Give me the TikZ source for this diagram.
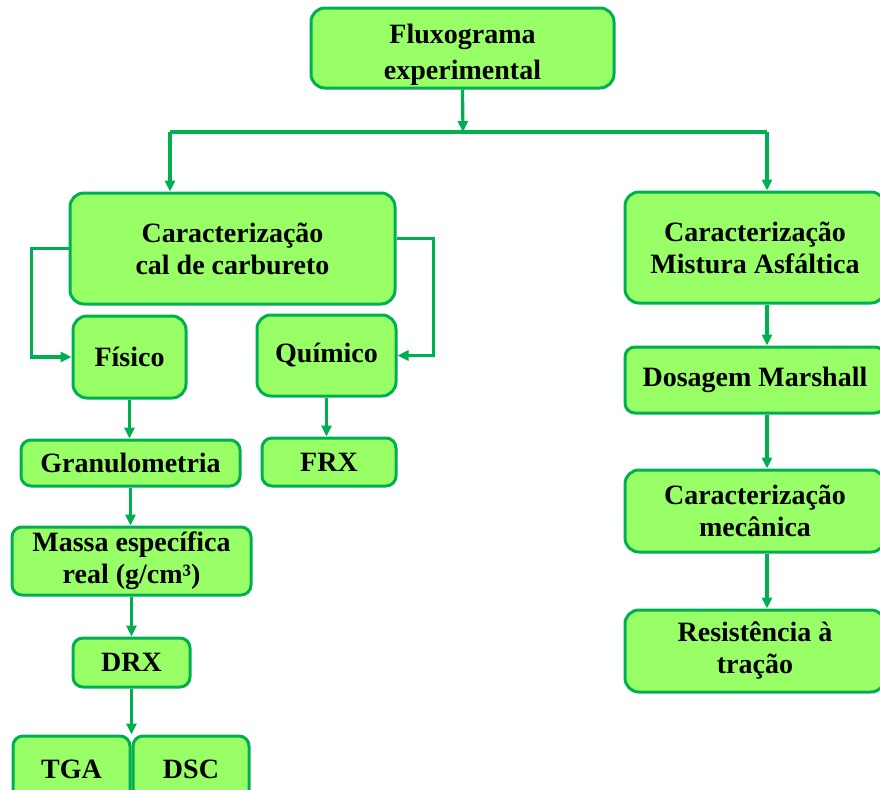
\documentclass[tikz,border=0pt]{standalone}
\usepackage{fontspec}
\setmainfont{Liberation Serif}
\usepackage{tikz}
\usetikzlibrary{arrows.meta,positioning}
\definecolor{boxfill}{RGB}{153,255,102}
\definecolor{boxline}{RGB}{0,176,80}

\begin{document}
\begin{tikzpicture}[x=0.5pt,y=-0.5pt]
			\tikzstyle{Box}		= [rectangle, rounded corners=7pt, draw=boxline, line width=1.5pt, fill=boxfill, align=center, inner sep=0pt, font=\fontsize{14}{16}\selectfont\bfseries]
			\tikzstyle{Small}	= [rounded corners=5pt]
			\tikzstyle{Link}	= [draw=boxline, line width=1.6pt]
			\tikzstyle{Arrow}	= [Link, -{Triangle[length=5.5pt,width=5pt]}]
			
			\clip (0,0) rectangle (880,789);
			
			% left branch
			\node (flux) at (462.5,48) [Box][minimum width=151.5pt, minimum height=40pt] {\rule{0pt}{16pt}Fluxograma\\[2pt]experimental};
			\node (cal) at (232.5,248.5) [Box][minimum width=162.5pt, minimum height=55.5pt] {Caracterização\\cal de carbureto};
			\node (fis) at (129.5,357) [Box][minimum width=56.5pt, minimum height=41pt] {Físico};
			\node (qui) at (326.5,355.5) [Box][minimum width=69.5pt, minimum height=40.5pt] {Químico};
			\node (gran) at (130.5,463) [Box][Small][minimum width=109.5pt, minimum height=23pt] {Granulometria};
			\node (frx) at (329,462) [Box][Small][minimum width=67pt, minimum height=24pt] {FRX};
			\node (massa) at (131.5,561) [Box][Small][minimum width=119.5pt, minimum height=34pt] {Massa específica\\real (g/cm³)};
			\node (drx) at (131.5,662.5) [Box][Small][minimum width=58.5pt, minimum height=24.5pt] {DRX};
			\node (tga) at (71.5,769) [Box][Small][minimum width=58.5pt, minimum height=33pt] {TGA};
			\node (dsc) at (191,769) [Box][Small][minimum width=58pt, minimum height=33pt] {DSC};
			
			% right branch
			\node (mist) at (755,247.5) [Box][minimum width=130pt, minimum height=55.5pt] {Caracterização\\Mistura Asfáltica};
			\node (dos) at (755,380) [Box][Small][minimum width=130pt, minimum height=33pt] {Dosagem Marshall};
			\node (mec) at (755,511) [Box][minimum width=130pt, minimum height=41pt] {Caracterização\\mecânica};
			\node (res) at (755,651) [Box][minimum width=130pt, minimum height=41pt] {Resistência à\\tração};
			
			\coordinate (jm) at (463,132);
			\coordinate (jl) at (170,132);
			\coordinate (jr) at (767,132);
			
			\draw [Arrow] (flux.south) -- (jm);
			\draw [Link] (jl) -- (jr);
			\draw [Arrow] (jl) -- (jl |- cal.north);
			\draw [Arrow] (jr) -- (jr |- mist.north);
			
			\draw [Arrow] (cal.west) -- ++(-37,0) |- (fis.west);
			\draw [Arrow] ([yshift=5pt]cal.east) -- ++(37,0) |- (qui.east);
			\draw [Arrow] (fis.south) -- (fis.south |- gran.north);
			\draw [Arrow] (qui.south) -- (qui.south |- frx.north);
			\draw [Arrow] (gran.south) -- (gran.south |- massa.north);
			\draw [Arrow] (massa.south) -- (massa.south |- drx.north);
			\draw [Arrow] (drx.south) -- (drx.south |- tga.north);
			
			\draw [Arrow] (jr |- mist.south) -- (jr |- dos.north);
			\draw [Arrow] (jr |- dos.south) -- (jr |- mec.north);
			\draw [Arrow] (jr |- mec.south) -- (jr |- res.north);
		\end{tikzpicture}
\end{document}
